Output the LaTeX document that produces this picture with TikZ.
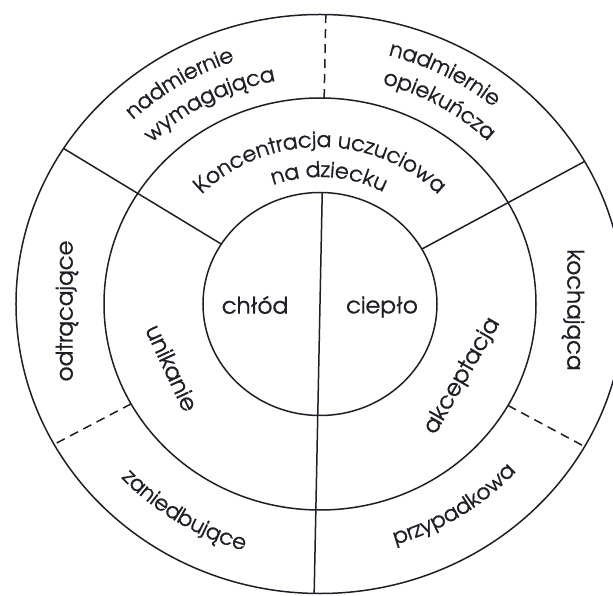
\documentclass[tikz,border=0pt]{standalone}
\usepackage{fontspec}
\setmainfont{TeX Gyre Adventor}
\newfontfamily\inkfont{TeX Gyre Adventor}[FakeBold=0.7]
\usetikzlibrary{decorations.text}
\definecolor{ink}{RGB}{30,30,40}
\newcommand\labelfont{\inkfont\fontsize{23}{27}\selectfont}
\newcommand\arcfont{\inkfont\fontsize{21.5}{26}\selectfont}
\tikzset{
  ring/.style={draw=ink, line width=1.5bp},
  divider/.style={draw=ink, line width=1.5bp},
  softdiv/.style={divider, dash pattern=on 9bp off 6bp},
  label/.style={font=\labelfont, text=ink, inner sep=0pt},
}
% text set along an elliptical arc: #1 = y radius of baseline, #2 = start angle, #3 = end angle, #4 = text
\newcommand\arclabel[4]{%
  \path[decorate,decoration={text along path,text align=center,text color=ink,text={|\arcfont|#4}}]
    (#2:{1.05*#1} and #1) arc[start angle=#2,end angle=#3,x radius={1.05*#1},y radius=#1];}
\begin{document}
\begin{tikzpicture}[x=1bp,y=1bp]
\useasboundingbox (-320,-292) rectangle (293,304);
\fill[white] (-320,-292) rectangle (293,304);

% three rings
\draw[ring] (0,0) ellipse[x radius=117, y radius=111.5];
\draw[ring] (0,0) ellipse[x radius=216, y radius=206];
\draw[ring] (0,0) ellipse[x radius=304, y radius=289.5];

% points where the dividers meet the rings
\coordinate (inTop)  at (88.9:117 and 111.5);
\coordinate (outBot) at (268.9:304 and 289.5);
\coordinate (midTop) at (88.9:216 and 206);
\coordinate (outTop) at (88.9:304 and 289.5);
\coordinate (inR)  at (29.5:117 and 111.5);
\coordinate (outR) at (29.5:304 and 289.5);
\coordinate (inL)  at (147.5:117 and 111.5);
\coordinate (outL) at (147.5:304 and 289.5);
\coordinate (midLL) at (209:216 and 206);
\coordinate (outLL) at (209:304 and 289.5);
\coordinate (midLR) at (330.5:216 and 206);
\coordinate (outLR) at (330.5:304 and 289.5);

% dividers
\draw[divider] (inTop) -- (outBot);
\draw[divider] (inR) -- (outR);
\draw[divider] (inL) -- (outL);
\draw[softdiv] (midTop) -- (outTop);
\draw[softdiv] (midLL) -- (outLL);
\draw[softdiv] (midLR) -- (outLR);

% core
\node[label] (cold) at (-65,-1) {chłód};
\node[label] (warm) at (62,-3) {ciepło};

% middle ring
\arclabel{157}{150}{30}{Koncentracja uczuciowa}
\arclabel{127}{146}{26}{na dziecku}
\node[label, rotate=-65] (avoid) at (-148,-64) {unikanie};
\node[label, rotate=60] (accept) at (142,-72) {akceptacja};

% outer ring
\arclabel{256}{151.5}{91.5}{nadmiernie}
\arclabel{227}{148}{88}{wymagająca}
\arclabel{257}{92.4}{32.4}{nadmiernie}
\arclabel{228}{90}{30}{opiekuńcza}
\node[label, rotate=90] (reject) at (-253,-7) {odtrącające};
\node[label, rotate=-90] (loving) at (253,-6) {kochająca};
\arclabel{257}{197.7}{277.7}{zaniedbujące}
\arclabel{251}{262.8}{342.8}{przypadkowa}
\end{tikzpicture}
\end{document}
